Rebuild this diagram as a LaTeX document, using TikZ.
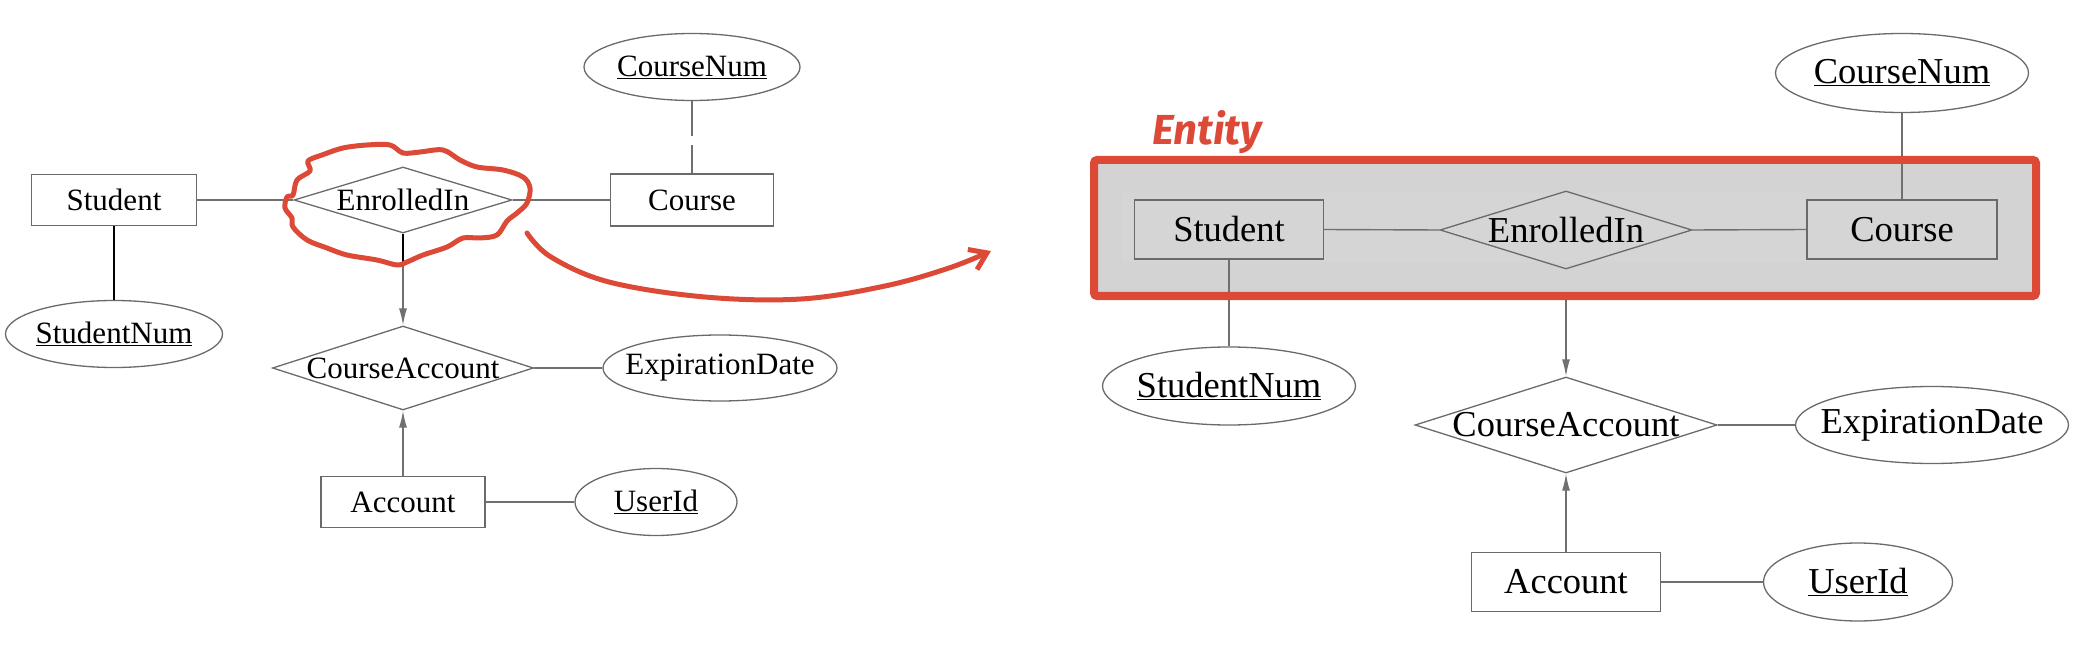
\documentclass[tikz,border=0pt]{standalone}
\usepackage{fontspec}
\setmainfont{Liberation Serif}
\newfontfamily\handfont{Fira Sans}
\usetikzlibrary{shapes.geometric,arrows.meta}
\definecolor{boxgray}{HTML}{6A6A6A}
\definecolor{linegray}{HTML}{707070}
\definecolor{annred}{HTML}{DC4A37}
\definecolor{entfill}{HTML}{D3D3D3}
\definecolor{entinner}{HTML}{D5D5D5}
\newcommand{\Lfont}{\fontsize{31}{31}\selectfont}
\newcommand{\Rfont}{\fontsize{36.5}{36.5}\selectfont}
\tikzset{
  entitybox/.style={draw=boxgray, line width=1.3pt, rectangle, inner sep=0pt},
  relbox/.style={draw=boxgray, line width=1.3pt, diamond, inner sep=0pt},
  attrbox/.style={draw=boxgray, line width=1.3pt, ellipse, inner sep=0pt},
  conn/.style={draw=linegray, line width=1.4pt},
  thickconn/.style={draw=black, line width=2.4pt},
  arr/.style={conn, -{Latex[length=17pt,width=8pt]}},
  annot/.style={draw=annred, line width=5pt, line cap=round, line join=round},
}
\begin{document}
\begin{tikzpicture}[x=1pt,y=-1pt]
\useasboundingbox (0,0) rectangle (2082,652);

% ---------------- left diagram ----------------
\begin{scope}[every label/.style={font=\Lfont, inner sep=0pt}]
\node[entitybox, minimum width=165pt, minimum height=51pt, label={center:Student}] (s1) at (114,200) {};
\node[relbox, minimum width=218pt, minimum height=66pt, label={center:EnrolledIn}] (e1) at (403,200) {};
\node[entitybox, minimum width=163pt, minimum height=52pt, label={center:Course}] (c1) at (692,200) {};
\node[attrbox, minimum width=216pt, minimum height=67pt, label={center:\underline{CourseNum}}] (cn1) at (692,67) {};
\node[attrbox, minimum width=217pt, minimum height=67pt, label={center:\underline{StudentNum}}] (sn1) at (114,334) {};
\node[relbox, minimum width=261pt, minimum height=84pt, label={center:CourseAccount}] (ca1) at (403,368) {};
\node[attrbox, minimum width=234pt, minimum height=66pt, label={center:ExpirationDate}] (ed1) at (720,368) {};
\node[entitybox, minimum width=164pt, minimum height=51pt, label={center:Account}] (a1) at (403,502) {};
\node[attrbox, minimum width=162pt, minimum height=67pt, label={center:\underline{UserId}}] (u1) at (656,502) {};
\end{scope}

\coordinate (gapA) at (692,136);
\coordinate (gapB) at (692,145);
\coordinate (e1low) at (403,266);
\draw[conn] (s1.east) -- (e1.west);
\draw[conn] (e1.east) -- (c1.west);
\draw[conn] (cn1.south) -- (gapA);
\draw[conn] (gapB) -- (c1.north);
\draw[thickconn] (s1.south) -- (sn1.north);
\draw[arr] (e1.south) -- (ca1.north);
\draw[thickconn] (e1.south) -- (e1low);
\draw[conn] (ca1.east) -- (ed1.west);
\draw[arr] (a1.north) -- (ca1.south);
\draw[conn] (a1.east) -- (u1.west);

% cloud around EnrolledIn
\draw[annot] plot[smooth cycle, tension=0.55] coordinates {
 (293,195) (297,180) (310,171) (308,161) (322,155) (343,148) (367,145) (390,145)
 (403,153) (420,152) (443,150) (460,160) (477,167) (503,170) (523,177) (530,188)
 (527,203) (517,213) (507,221) (497,235) (480,238) (463,238) (447,247) (423,255)
 (407,262) (397,265) (377,260) (347,255) (327,248) (307,240) (293,227) (292,218)
 (285,208) (287,197)};

% curved red arrow
\coordinate (arrS) at (527,233);
\coordinate (arrE) at (991,251);
\draw[annot, -{Straight Barb[length=16pt,width=22pt]}] plot[smooth, tension=0.6] coordinates {
 (arrS) (551,257) (609,282) (705,297) (801,299) (885,286) (949,268) (arrE)};

% ---------------- right diagram ----------------
\node[rectangle, fill=entfill, outer sep=0pt, inner sep=0pt, minimum width=942pt, minimum height=136pt] (ent) at (1565,228) {};
\node[rectangle, fill=entinner, inner sep=0pt, minimum width=874pt, minimum height=69pt] (entin) at (1559,227.5) {};

\begin{scope}[every label/.style={font=\Rfont, inner sep=0pt}]
\node[entitybox, minimum width=189pt, minimum height=59pt, label={center:Student}] (s2) at (1229,229.5) {};
\node[relbox, minimum width=252pt, minimum height=78pt, label={center:EnrolledIn}] (e2) at (1566,230) {};
\node[entitybox, minimum width=190pt, minimum height=59pt, label={center:Course}] (c2) at (1902,229.5) {};
\node[attrbox, minimum width=253pt, minimum height=79pt, label={center:\underline{CourseNum}}] (cn2) at (1902,73) {};
\node[attrbox, minimum width=253pt, minimum height=78pt, label={center:\underline{StudentNum}}] (sn2) at (1229,386) {};
\node[relbox, minimum width=302pt, minimum height=96pt, label={center:CourseAccount}] (ca2) at (1566,425) {};
\node[attrbox, minimum width=273pt, minimum height=77pt, label={center:ExpirationDate}] (ed2) at (1932,425) {};
\node[entitybox, minimum width=189pt, minimum height=59pt, label={center:Account}] (a2) at (1566,582) {};
\node[attrbox, minimum width=189pt, minimum height=78pt, label={center:\underline{UserId}}] (u2) at (1858,582) {};
\end{scope}

\draw[conn] (s2.east) -- (e2.west);
\draw[conn] (e2.east) -- (c2.west);
\draw[conn] (cn2.south) -- (c2.north);
\draw[conn] (s2.south) -- (sn2.north);
\draw[arr] (ent.south -| ca2.north) -- (ca2.north);
\draw[conn] (ca2.east) -- (ed2.west);
\draw[arr] (a2.north) -- (ca2.south);
\draw[conn] (a2.east) -- (u2.west);

% red frame on top
\draw[draw=annred, line width=8pt, rounded corners=3pt] (ent.north west) rectangle (ent.south east);
\node[text=annred, font=\handfont\bfseries\itshape\fontsize{42}{42}\selectfont, anchor=base west, inner sep=0pt] (entlbl) at (1152,145) {Entity};

\end{tikzpicture}
\end{document}
